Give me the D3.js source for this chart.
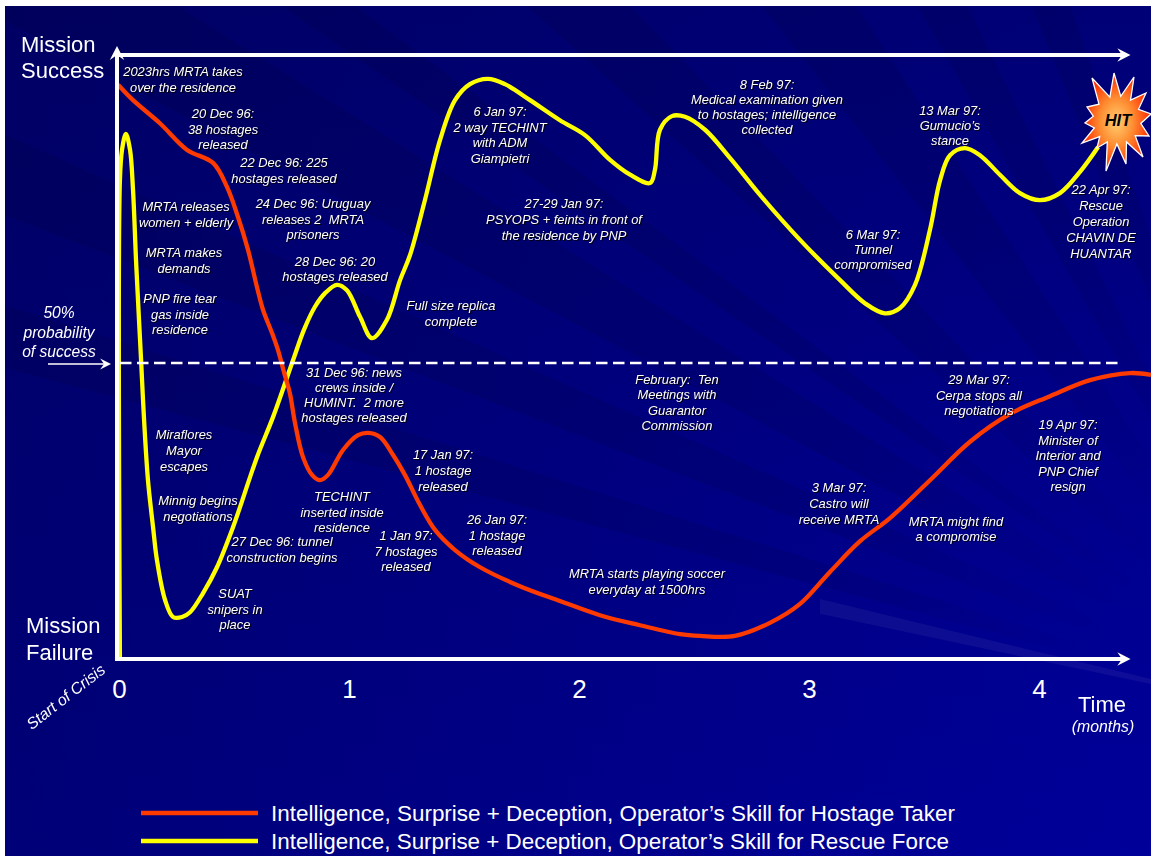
<!DOCTYPE html>
<html><head><meta charset="utf-8">
<script src="https://cdn.jsdelivr.net/npm/d3@7/dist/d3.min.js"></script>
<style>html,body{margin:0;padding:0;background:#fff;overflow:hidden}svg{display:block}
text{font-family:"Liberation Sans",Arial,sans-serif;fill:#fff}</style></head><body>
<script>
// months since start of crisis, probability of mission success (%)
const hostageMonths=[-.004,.061,.178,.296,.409,.47,.517,.561,.6,.626,.665,.691,.717,.743,.765,.8,.839,.874,.909,.974,1.039,1.083,1.135,1.191,1.243,1.309,1.374,1.461,1.57,1.743,1.917,2.091,2.265,2.439,2.526,2.678,2.83,2.961,3.091,3.222,3.352,3.526,3.7,3.874,4.048,4.222,4.396,4.487];
const hostageValues=[97,94.4,90.5,86,83.8,79.7,74.7,69.1,62.8,59,55.1,52.2,48.5,44.9,39.9,34.1,31.1,30.2,31.1,35.3,37.8,38.2,37.5,34.5,31.1,26,21.8,18.4,15.5,12.3,9.8,7.4,5.7,4.2,3.9,3.9,6.1,9.3,14.7,19.9,23.8,30.2,36.7,41.4,44.4,47.1,48.3,48];
const rescueMonths=[.004,.004,.013,.03,.048,.061,.074,.087,.096,.109,.126,.148,.165,.2,.235,.274,.309,.365,.426,.496,.6,.67,.757,.804,.852,.896,.948,.991,1.048,1.1,1.165,1.222,1.265,1.33,1.396,1.461,1.526,1.604,1.678,1.787,1.917,2.026,2.135,2.222,2.309,2.33,2.352,2.404,2.461,2.548,2.657,2.787,2.961,3.135,3.243,3.33,3.396,3.461,3.526,3.57,3.613,3.678,3.743,3.83,3.917,4.004,4.091,4.178,4.257];
const rescueValues=[0,80.9,86,88.7,86,79.2,67.4,57.3,50.5,40.4,30.2,22.3,16.7,10,7.1,7.1,7.9,11.1,15.5,22.3,34.1,40.9,50.5,55.6,59.5,61.8,63.2,62.3,57.8,54.2,57.3,64,68.2,77.5,87.7,94.4,97.1,98,97.1,94.4,91,88.5,84.3,81.8,80.4,82.6,89.4,91.7,91.6,89.4,84.6,78.4,70.8,64,60.1,58.4,59.3,63.2,72.5,80.9,85.1,86.3,85.1,81.8,78.7,77.5,78.7,82.3,86.5];
const monthTicks=[0,1,2,3,4];
const legendLabels=["Intelligence, Surprise + Deception, Operator\u2019s Skill for Hostage Taker","Intelligence, Surprise + Deception, Operator\u2019s Skill for Rescue Force"];
const seriesColors=["#ff3a00","#ffff00"];
const noteTexts=[
["2023hrs MRTA takes","over the residence"],["20 Dec 96:","38 hostages","released"],["22 Dec 96: 225","hostages released"],
["24 Dec 96: Uruguay","releases 2  MRTA","prisoners"],["28 Dec 96: 20","hostages released"],["MRTA releases","women + elderly"],
["MRTA makes","demands"],["PNP fire tear","gas inside","residence"],["Full size replica","complete"],
["31 Dec 96: news","crews inside /","HUMINT.  2 more","hostages released"],["Miraflores","Mayor","escapes"],["Minnig begins","negotiations"],
["27 Dec 96: tunnel","construction begins"],["SUAT","snipers in","place"],["TECHINT","inserted inside","residence"],
["17 Jan 97:","1 hostage","released"],["1 Jan 97:","7 hostages","released"],["26 Jan 97:","1 hostage","released"],
["MRTA starts playing soccer","everyday at 1500hrs"],["February:  Ten","Meetings with","Guarantor","Commission"],
["6 Jan 97:","2 way TECHINT","with ADM","Giampietri"],["27-29 Jan 97:","PSYOPS + feints in front of","the residence by PNP"],
["8 Feb 97:","Medical examination given","to hostages; intelligence","collected"],["6 Mar 97:","Tunnel","compromised"],
["13 Mar 97:","Gumucio\u2019s","stance"],["22 Apr 97:","Rescue","Operation","CHAVIN DE","HUANTAR"],
["29 Mar 97:","Cerpa stops all","negotiations"],["19 Apr 97:","Minister of","Interior and","PNP Chief","resign"],
["3 Mar 97:","Castro will","receive MRTA"],["MRTA might find","a compromise"]];
// layout of the annotations: centre x, centre y of first line, line gap
const notePlace=[[183,72,16],[223,114,15.5],[284,163,16],[313,204,15.5],[335,262,15],[186,207,16],[184,253,16],[180,299,15.5],[451,306,16],
[354,373,15],[184,435,16],[198,501,16],[282,542,16],[235,594,15.5],[342,497,15.5],[443,455,16],[406,536,15.5],[497,520,15.5],[647,574,16],
[677,380,15.3],[500,112,15.7],[564,204,16],[767,85,15],[873,235,15],[950,111,15],[1101,190,16],[979,380,15.5],[1068,425,15.5],[839,488,16],[956,522,15]];

const W=1151,H=856;
const x=d3.scaleLinear().domain([0,4]).range([119,1039]);
const y=d3.scaleLinear().domain([0,100]).range([659,67]);
const svg=d3.select("body").append("svg").attr("width",W).attr("height",H);
const defs=svg.append("defs");
const O=[1320,720];
const glow=defs.append("radialGradient").attr("id","glow").attr("gradientUnits","userSpaceOnUse").attr("cx",O[0]).attr("cy",O[1]).attr("r",1500);
[[.15,"#00003a",0],[.6,"#00003a",.22],[1,"#00003a",.42]].forEach(d=>glow.append("stop").attr("offset",d[0]).attr("stop-color",d[1]).attr("stop-opacity",d[2]));
const topDark=defs.append("linearGradient").attr("id","topDark").attr("x1",0).attr("y1",0).attr("x2",0).attr("y2",1);
[[0,.25],[.85,.05],[1,0]].forEach(d=>topDark.append("stop").attr("offset",d[0]).attr("stop-color","#00003a").attr("stop-opacity",d[1]));
const rayFill=defs.append("radialGradient").attr("id","rayFill").attr("gradientUnits","userSpaceOnUse").attr("cx",O[0]).attr("cy",O[1]).attr("r",1100);
[[.2,0],[.5,.12],[1,.14]].forEach(d=>rayFill.append("stop").attr("offset",d[0]).attr("stop-color","#00002a").attr("stop-opacity",d[1]));
const burst=defs.append("radialGradient").attr("id","burst");
[[0,"#ffd070"],[.5,"#ff8a30"],[1,"#ff2a00"]].forEach(d=>burst.append("stop").attr("offset",d[0]).attr("stop-color",d[1]));
const clip=defs.append("clipPath").attr("id","panel");clip.append("rect").attr("x",5).attr("y",6).attr("width",W-5).attr("height",H-6);
const streak=defs.append("clipPath").attr("id","streak");streak.append("rect").attr("x",820).attr("y",0).attr("width",W).attr("height",H);
const panel=svg.append("g").attr("clip-path","url(#panel)");
panel.append("rect").attr("x",5).attr("y",6).attr("width",W).attr("height",H).attr("fill","#00009a");
panel.append("rect").attr("x",5).attr("y",6).attr("width",W).attr("height",H).attr("fill","url(#glow)");
panel.append("rect").attr("x",5).attr("y",6).attr("width",W).attr("height",H).attr("fill","url(#topDark)");
const wedge=(a,b)=>[O,...[a,b].map(t=>[O[0]+2400*Math.cos(t*Math.PI/180),O[1]+2400*Math.sin(t*Math.PI/180)])].join(" ");
[[195,197.5],[201,204],[208,212],[214.5,216.5],[222,226],[232,237],[240.6,243.7],[248,250.7]].forEach(r=>panel.append("polygon").attr("points",wedge(r[0],r[1])).attr("fill","url(#rayFill)"));
panel.append("g").attr("clip-path","url(#streak)").append("polygon").attr("points",wedge(192,193.6)).attr("fill","#fff").attr("opacity",.05);

const line=d3.line().x(d=>x(d[0])).y(d=>y(d[1])).curve(d3.curveCatmullRom.alpha(.5));
const plot=svg.append("g").attr("fill","none");
plot.append("path").attr("d",line(d3.zip(rescueMonths,rescueValues))).attr("stroke",seriesColors[1]).attr("stroke-width",4.3).attr("stroke-linejoin","round");
plot.append("path").attr("d",line(d3.zip(hostageMonths,hostageValues))).attr("stroke",seriesColors[0]).attr("stroke-width",4.3).attr("stroke-linejoin","round");

// axes frame
const frame=svg.append("g").attr("stroke","#fff").attr("fill","none");
const arrow=(x1,y1,x2,y2,w,s)=>{
  frame.append("line").attr("x1",x1).attr("y1",y1).attr("x2",x2).attr("y2",y2).attr("stroke-width",w);
  const a=Math.atan2(y2-y1,x2-x1),tip=[x2+s*Math.cos(a),y2+s*Math.sin(a)];
  const pts=[tip,[x2-s*.55*Math.cos(a)-s*.8*Math.sin(a),y2-s*.55*Math.sin(a)+s*.8*Math.cos(a)],[x2,y2],[x2-s*.55*Math.cos(a)+s*.8*Math.sin(a),y2-s*.55*Math.sin(a)-s*.8*Math.cos(a)]];
  frame.append("polygon").attr("points",pts.join(" ")).attr("fill","#fff").attr("stroke","none");
};
arrow(117,661,117,55,4,9);
arrow(116,55,1122,55,4,8.5);
arrow(115,659,1122,659,4,8.5);
arrow(48,364,104,364,1.5,7);
frame.append("line").attr("x1",120).attr("y1",y(50)).attr("x2",1122).attr("y2",y(50)).attr("stroke-width",2.6).attr("stroke-dasharray","11.5 5.5");

// month axis through d3.axisBottom
const ax=svg.append("g").attr("transform","translate(0,659)").call(d3.axisBottom(x).tickValues(monthTicks).tickFormat(d3.format("d")).tickSize(0).tickPadding(20.5));
ax.select(".domain").remove();
ax.selectAll("text").attr("font-size",26).attr("font-family","Liberation Sans").attr("fill","#fff");

// large labels
const soft=svg.append("g").style("filter","blur(.3px)");
const big=soft.append("g").attr("font-size",22);
[["Mission",21,52],["Success",21,78],["Mission",26,633],["Failure",26,660],["Time",1078,712]].forEach(d=>big.append("text").attr("x",d[1]).attr("y",d[2]).text(d[0]));
const ital=soft.append("g").attr("font-style","italic").attr("text-anchor","middle");
[["50%",59,318,15.6],["probability",59,338,15.6],["of success",59,357,15.6],["(months)",1103,732,15.8]].forEach(d=>ital.append("text").attr("x",d[1]).attr("y",d[2]).attr("font-size",d[3]).text(d[0]));
ital.append("text").attr("transform","translate(69,701) rotate(-38)").attr("font-size",15.8).text("Start of Crisis");

// annotations
const notes=svg.append("g").attr("font-style","italic").attr("font-size",12.9).attr("text-anchor","middle").style("filter","blur(.3px) drop-shadow(1px 1px .5px rgba(0,0,0,.85))");
noteTexts.forEach((lines,i)=>{const p=notePlace[i];
  const t=notes.append("text").attr("fill","#fff");
  lines.forEach((l,j)=>t.append("tspan").attr("xml:space","preserve").attr("x",p[0]).attr("y",p[1]+j*p[2]+4).text(l));
});

// HIT burst
const tips=[[-3,-47],[17,-43],[29,-27],[34,-6],[32,16],[26,37],[9,44],[-11,51],[-20,28],[-35,23],[-32,3],[-30,-13],[-25,-42]];
const star=[];tips.forEach((t,i)=>{const n=tips[(i+1)%tips.length],a0=Math.atan2(t[1],t[0]),d=(Math.atan2(n[1],n[0])-a0+2*Math.PI)%(2*Math.PI),am=a0+d/2;star.push(t,[24*Math.cos(am),24*Math.sin(am)]);});
const hit=svg.append("g").attr("transform","translate(1117,120)");
hit.append("polygon").attr("points",star.join(" ")).attr("fill","url(#burst)").attr("stroke","#fff").attr("stroke-width",1.3);
hit.append("text").attr("text-anchor","middle").attr("y",6).attr("x",1).attr("font-size",16.5).attr("font-style","italic").attr("font-weight","bold").style("fill","#000").text("HIT");

// legend
const leg=svg.append("g").selectAll("g").data(legendLabels).join("g").attr("transform",(d,i)=>`translate(0,${813+i*28})`);
leg.append("line").attr("x1",141).attr("x2",258).attr("stroke",(d,i)=>seriesColors[i]).attr("stroke-width",4.5);
leg.append("text").attr("x",271).attr("y",7.5).attr("font-size",22).attr("textLength",(d,i)=>i?678:684).attr("lengthAdjust","spacingAndGlyphs").text(d=>d);
</script></body></html>
